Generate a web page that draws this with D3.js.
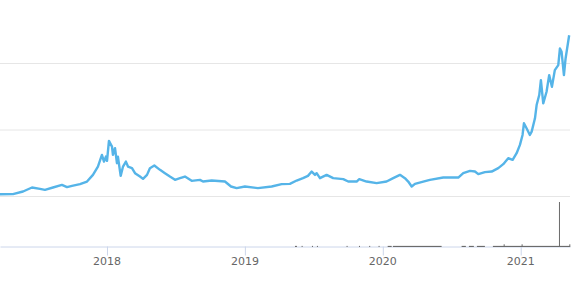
<!DOCTYPE html>
<html>
<head>
<meta charset="utf-8">
<script src="https://cdn.jsdelivr.net/npm/d3@7"></script>
<style>
html,body{margin:0;padding:0;background:#fff;}
svg{display:block;}
</style>
</head>
<body>
<svg id="chart" width="580" height="295"></svg>
<script>
// decimal-year dates and price values
const dates = [2017.228,2017.322,2017.395,2017.460,2017.518,2017.554,2017.612,2017.677,2017.714,2017.750,2017.808,2017.859,2017.902,2017.938,2017.967,2017.982,2017.996,2018.004,2018.018,2018.040,2018.047,2018.062,2018.076,2018.083,2018.103,2018.120,2018.141,2018.156,2018.185,2018.207,2018.243,2018.265,2018.294,2018.315,2018.347,2018.388,2018.424,2018.460,2018.497,2018.533,2018.569,2018.618,2018.678,2018.700,2018.763,2018.859,2018.903,2018.944,2019.004,2019.098,2019.198,2019.270,2019.330,2019.379,2019.425,2019.461,2019.488,2019.512,2019.524,2019.548,2019.596,2019.644,2019.717,2019.753,2019.814,2019.833,2019.886,2019.959,2020.031,2020.079,2020.128,2020.164,2020.188,2020.213,2020.237,2020.297,2020.345,2020.442,2020.551,2020.587,2020.636,2020.672,2020.696,2020.744,2020.793,2020.841,2020.877,2020.913,2020.945,2020.974,2020.998,2021.017,2021.027,2021.046,2021.070,2021.083,2021.107,2021.119,2021.138,2021.150,2021.167,2021.191,2021.210,2021.230,2021.251,2021.276,2021.288,2021.300,2021.317,2021.329,2021.355];
const prices = [660,720,1500,2700,2310,2010,2700,3510,2820,3210,3720,4500,6510,9000,12510,10500,12000,10710,16710,15000,12510,14520,10020,12000,6210,9000,10500,9000,8520,7020,6000,5310,6510,8520,9300,8010,7020,6000,5010,5520,6000,4710,5010,4500,4800,4500,3000,2520,3000,2520,3000,3720,3810,4800,5520,6210,7500,6510,7020,5520,6510,5520,5220,4500,4500,5220,4500,4020,4500,5520,6510,5520,4500,3000,3810,4500,5010,5700,5700,7020,7710,7500,6720,7320,7500,8520,9720,11520,11010,13020,15510,18510,22020,20520,18510,19500,23520,27510,30510,35010,28020,31500,36510,33000,38010,39510,44520,43500,36510,41520,48510];

// volume runs: [start year, end year, volume]
const volStart = [2019.367,2019.415,2019.490,2019.526,2019.741,2019.831,2019.905,2019.973,2020.039,2020.077,2020.575,2020.628,2020.686,2020.802,2020.880,2021.010,2021.281,2021.356];
const volEnd   = [2019.381,2019.422,2019.497,2019.533,2019.748,2019.838,2019.912,2019.980,2020.068,2020.430,2020.606,2020.664,2020.744,2021.360,2020.887,2021.017,2021.288,2021.361];
const volumes  = [2.5,2.5,2.5,2.5,2.5,2.5,2.5,2.5,2.5,2.5,2.5,2.5,2.5,2.5,6,6,100,6];

const yearTicks = [2018,2019,2020,2021];
const priceGrid = [0,20000,40000];

const svg = d3.select("#chart");
const x = d3.scaleLinear().domain([2017.228, 2021.361]).range([0, 570]);
const y = d3.scaleLinear().domain([0, 40000]).range([196.5, 63.5]);
const vy = d3.scaleLinear().domain([0, 100]).range([247, 202]);

// gridlines
svg.append("g").selectAll("line").data(priceGrid).join("line")
  .attr("x1", 0).attr("x2", 570)
  .attr("y1", d => y(d)).attr("y2", d => y(d))
  .attr("stroke", "#e6e6e6").attr("stroke-width", 1);

// x axis
const axis = d3.axisBottom(x).tickValues(yearTicks).tickFormat(d3.format("d"))
  .tickSize(9).tickSizeOuter(0).tickPadding(2);
const ax = svg.append("g").attr("transform", "translate(0,246.5)").call(axis);
ax.select(".domain").attr("stroke", "#ccd6eb");
ax.selectAll(".tick line").attr("stroke", "#ccd6eb").attr("transform","translate(0.5,0)");
ax.selectAll(".tick text").attr("fill", "#666666")
  .style("font-family", "'DejaVu Sans', sans-serif").style("font-size", "11px");

// volume bars
const vdata = volStart.map((s, i) => ({s, e: volEnd[i], v: volumes[i]}));
svg.append("g").selectAll("rect").data(vdata).join("rect")
  .attr("x", d => x(d.s))
  .attr("width", d => Math.max(1, x(d.e) - x(d.s)))
  .attr("y", d => vy(d.v))
  .attr("height", d => vy(0) - vy(d.v))
  .attr("fill", "#6b6b6b");

// price line
const data = dates.map((d, i) => [d, prices[i]]);
svg.append("path").datum(data)
  .attr("fill", "none")
  .attr("stroke", "#55b4e8")
  .attr("stroke-width", 2.4)
  .attr("stroke-linejoin", "round")
  .attr("d", d3.line().x(d => x(d[0])).y(d => y(d[1])));
</script>
</body>
</html>
